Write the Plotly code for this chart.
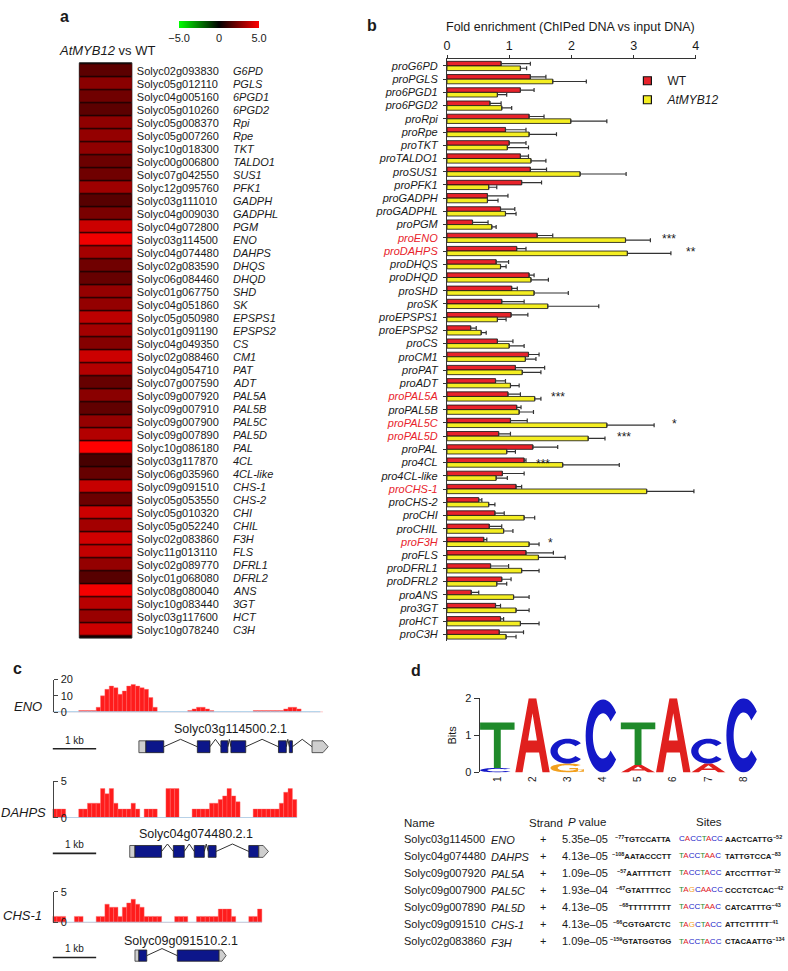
import numpy as np
import plotly.graph_objects as go

W, H = 788, 971
FONT = "Liberation Sans, Arial, Helvetica, sans-serif"
INK = "#1a1a1a"


def fx(p):
    return p / W


def fy(p):
    return 1 - p / H


# ---------------- Panel a : heatmap data ----------------
gene_ids = ["Solyc02g093830", "Solyc05g012110", "Solyc04g005160", "Solyc05g010260", "Solyc05g008370",
            "Solyc05g007260", "Solyc10g018300", "Solyc00g006800", "Solyc07g042550", "Solyc12g095760",
            "Solyc03g111010", "Solyc04g009030", "Solyc04g072800", "Solyc03g114500", "Solyc04g074480",
            "Solyc02g083590", "Solyc06g084460", "Solyc01g067750", "Solyc04g051860", "Solyc05g050980",
            "Solyc01g091190", "Solyc04g049350", "Solyc02g088460", "Solyc04g054710", "Solyc07g007590",
            "Solyc09g007920", "Solyc09g007910", "Solyc09g007900", "Solyc09g007890", "Solyc10g086180",
            "Solyc03g117870", "Solyc06g035960", "Solyc09g091510", "Solyc05g053550", "Solyc05g010320",
            "Solyc05g052240", "Solyc02g083860", "Solyc11g013110", "Solyc02g089770", "Solyc01g068080",
            "Solyc08g080040", "Solyc10g083440", "Solyc03g117600", "Solyc10g078240"]
gene_symbols = ["G6PD", "PGLS", "6PGD1", "6PGD2", "Rpi", "Rpe", "TKT", "TALDO1", "SUS1", "PFK1",
                "GADPH", "GADPHL", "PGM", "ENO", "DAHPS", "DHQS", "DHQD", "SHD", "SK", "EPSPS1",
                "EPSPS2", "CS", "CM1", "PAT", "ADT", "PAL5A", "PAL5B", "PAL5C", "PAL5D", "PAL",
                "4CL", "4CL-like", "CHS-1", "CHS-2", "CHI", "CHIL", "F3H", "FLS", "DFRL1", "DFRL2",
                "ANS", "3GT", "HCT", "C3H"]
log2_ratio = [1.8, 2.7, 2.2, 1.8, 2.8, 2.9, 2.8, 2.1, 2.2, 3.1,
              1.7, 2.4, 4.0, 4.7, 3.2, 2.2, 2.0, 2.9, 2.9, 3.7,
              3.2, 2.6, 4.0, 3.5, 2.0, 2.7, 1.9, 2.9, 3.5, 5.0,
              1.4, 2.0, 3.9, 2.1, 4.0, 3.2, 4.1, 3.8, 2.9, 1.7,
              4.8, 3.6, 3.0, 4.0]
colorbar_ticks = [-5, 0, 5]
colorbar_ticktext = ["\u22125.0", "0", "5.0"]

# ---------------- Panel b : ChIP fold enrichment ----------------
promoters = ["proG6PD", "proPGLS", "pro6PGD1", "pro6PGD2", "proRpi", "proRpe", "proTKT", "proTALDO1",
             "proSUS1", "proPFK1", "proGADPH", "proGADPHL", "proPGM", "proENO", "proDAHPS", "proDHQS",
             "proDHQD", "proSHD", "proSK", "proEPSPS1", "proEPSPS2", "proCS", "proCM1", "proPAT", "proADT",
             "proPAL5A", "proPAL5B", "proPAL5C", "proPAL5D", "proPAL", "pro4CL", "pro4CL-like", "proCHS-1",
             "proCHS-2", "proCHI", "proCHIL", "proF3H", "proFLS", "proDFRL1", "proDFRL2", "proANS",
             "pro3GT", "proHCT", "proC3H"]
wt_mean = [0.87, 1.34, 1.18, 0.69, 1.32, 0.94, 1.00, 1.18, 1.34, 1.20,
           0.65, 0.86, 0.41, 1.45, 1.12, 0.79, 1.32, 1.04, 0.88, 1.03,
           0.38, 0.81, 1.31, 1.10, 0.78, 0.98, 1.12, 1.02, 0.83, 1.38,
           1.24, 0.89, 1.11, 0.51, 0.77, 0.68, 0.59, 1.27, 0.70, 0.88,
           0.39, 0.78, 0.86, 0.84]
wt_err = [0.47, 0.25, 0.22, 0.18, 0.24, 0.33, 0.27, 0.13, 0.26, 0.32,
          0.33, 0.23, 0.25, 0.25, 0.15, 0.20, 0.08, 0.09, 0.36, 0.27,
          0.09, 0.25, 0.17, 0.47, 0.16, 0.20, 0.07, 0.27, 0.19, 0.40,
          0.03, 0.35, 0.09, 0.05, 0.15, 0.20, 0.05, 0.44, 0.29, 0.15,
          0.12, 0.08, 0.05, 0.39]
myb_mean = [1.18, 1.70, 0.81, 0.88, 1.99, 1.32, 0.97, 1.35, 2.14, 0.67,
            0.65, 0.94, 0.72, 2.87, 2.90, 0.86, 1.35, 1.40, 1.62, 0.81,
            0.55, 1.00, 1.26, 1.21, 1.02, 1.41, 1.16, 2.57, 2.27, 0.96,
            1.86, 0.79, 3.21, 0.67, 1.24, 0.91, 1.32, 1.47, 1.20, 0.80,
            1.07, 1.11, 1.18, 0.95]
myb_err = [0.10, 0.54, 0.15, 0.16, 0.58, 0.44, 0.34, 0.24, 0.74, 0.13,
           0.17, 0.17, 0.07, 0.40, 0.70, 0.09, 0.28, 0.55, 0.82, 0.14,
           0.08, 0.24, 0.17, 0.30, 0.14, 0.10, 0.23, 0.76, 0.27, 0.14,
           0.91, 0.18, 0.76, 0.10, 0.17, 0.15, 0.16, 0.43, 0.28, 0.16,
           0.25, 0.21, 0.30, 0.16]
highlighted = ["proENO", "proDAHPS", "proPAL5A", "proPAL5C", "proPAL5D", "proCHS-1", "proF3H"]
sig_promoters = ["proENO", "proDAHPS", "proPAL5A", "proPAL5C", "proPAL5D", "pro4CL", "proCHS-1", "proF3H"]
sig_marks = ["***", "**", "***", "*", "***", "***", "***", "*"]
sig_xpos = [3.57, 3.92, 1.79, 3.65, 2.85, 1.55, 4.18, 1.66]
enrich_ticks = [0, 1, 2, 3, 4]

# ---------------- Panel c : ChIP-seq coverage (0.1 kb bins) ----------------
bin_kb = 0.1
eno_cov = [0, 0, 0, 0, 0, 0, 1, 1, 1, 1,
           3, 10, 14, 16, 15, 11, 13, 16, 17, 16,
           15, 14, 9, 3, 0, 0, 0, 0, 0, 0,
           0, 1, 2, 3, 3, 2, 1, 0, 0, 0,
           0, 0, 0, 0, 0, 0, 1, 1, 1, 1,
           1, 1, 1, 2, 3, 3, 2, 0, 0, 0,
           0, 0]
dahps_cov = [1.2, 1.2, 1.2, 0, 0, 0, 1.2, 1.2, 2, 2,
             2, 4, 3.3, 4, 2, 1.2, 1.2, 1.2, 2, 1.2,
             0, 1.2, 1.2, 1.2, 0, 0, 4, 4, 4, 0,
             0, 0, 1.2, 1.2, 1.2, 1.2, 2, 2, 2.5, 3,
             4, 3, 2.2, 0, 0, 0, 1.2, 1.2, 1.2, 1.2,
             1.2, 1.2, 2, 3.5, 4, 2.5]
chs_cov = [1, 1, 1, 0, 0, 1, 1, 0, 0, 0,
           1, 1, 3, 2.5, 2.5, 1, 2.5, 3.2, 3.8, 3,
           2.5, 1, 1, 1, 1, 0, 0, 0, 1, 1,
           1, 0, 0, 1, 1, 1, 1, 1, 2.2, 2.2,
           2.2, 1, 0, 0, 0, 1, 1, 2.2]
track_lengths_kb = [6.14, 5.6, 4.8]
track_names = ["ENO", "DAHPS", "CHS-1"]
track_ymax = [20, 5, 5]
track_ticks = [[0, 10, 20], [0, 5], [0, 5]]
gene_models = ["Solyc03g114500.2.1", "Solyc04g074480.2.1", "Solyc09g091510.2.1"]
gene_utr5 = [[1.98, 2.14], [1.77, 1.89], [1.89, 1.98]]
gene_exons = [[[2.14, 2.55], [3.32, 3.61], [3.86, 4.02], [4.09, 4.43], [5.18, 5.36], [5.43, 5.50]],
              [[1.89, 2.50], [2.77, 3.02], [3.25, 3.48], [3.57, 3.75], [4.50, 4.73]],
              [[1.98, 2.16], [2.86, 3.82]]]
gene_utr3 = [[5.95, 6.32], [4.73, 4.95], [3.82, 3.98]]
gene_label_kb = [4.09, 3.30, 2.95]
scale_bar_kb = [0, 1]

# ---------------- Panel d : motif logo + table ----------------
logo_positions = [1, 2, 3, 4, 5, 6, 7, 8]
logo_letters = [["C", "T"], ["A"], ["G", "C"], ["C"], ["A", "T"], ["A"], ["A", "C"], ["C"]]
logo_bits = [[0.12, 1.23], [2.0], [0.24, 0.67], [1.97], [0.20, 1.15], [2.0], [0.24, 0.67], [2.0]]
base_colors = {"A": "#e0201e", "C": "#1418c8", "G": "#f2a01e", "T": "#1f8a2a"}

tbl_ids = ["Solyc03g114500", "Solyc04g074480", "Solyc09g007920", "Solyc09g007900",
           "Solyc09g007890", "Solyc09g091510", "Solyc02g083860"]
tbl_genes = ["ENO", "DAHPS", "PAL5A", "PAL5C", "PAL5D", "CHS-1", "F3H"]
tbl_strand = ["+", "+", "+", "+", "+", "+", "+"]
tbl_pvalues = ["5.35e\u201305", "4.13e\u201305", "1.09e\u201305", "1.93e\u201304",
               "4.13e\u201305", "4.13e\u201305", "1.09e\u201305"]
tbl_up_pos = ["\u221277", "\u2212108", "\u221257", "\u221267", "\u221268", "\u221266", "\u2212159"]
tbl_up_seq = ["TGTCCATTA", "AATACCCTT", "AATTTTCTT", "GTATTTTCC", "TTTTTTTTT", "CGTGATCTC", "GTATGGTGG"]
tbl_sites = ["CACCTACC", "TACCTAAC", "TACCTACC", "TAGCAACC", "TACCTAAC", "TAGCTACC", "TACCTACC"]
tbl_down_seq = ["AACTCATTG", "TATTGTCCA", "ATCCTTTGT", "CCCTCTCAC", "CATCATTTG", "ATTCTTTTT", "CTACAATTG"]
tbl_down_pos = ["\u221252", "\u221283", "\u221232", "\u221242", "\u221243", "\u221241", "\u2212134"]

# =====================================================================
fig = go.Figure()
shapes = []
annotations = []


def ann(text, x, y, size=11, xanchor="center", yanchor="middle", color=INK, **kw):
    d = dict(text=text, x=x, y=y, xref=kw.pop("xref", "paper"), yref=kw.pop("yref", "paper"),
             xanchor=xanchor, yanchor=yanchor, showarrow=False,
             font=dict(family=FONT, size=size, color=color))
    d.update(kw)
    annotations.append(d)


# ---------------- Panel a ----------------
fig.add_trace(go.Heatmap(
    z=[[v] for v in log2_ratio], x=[0], y=gene_ids, xaxis="x", yaxis="y",
    colorscale=[[0, "#00ff00"], [0.5, "#000000"], [1, "#ff0000"]], zmin=-5, zmax=5,
    ygap=1.3, hoverinfo="skip",
    colorbar=dict(orientation="h", x=fx(218), xanchor="center", y=fy(15), yanchor="top",
                  len=80, lenmode="pixels", thickness=7, thicknessmode="pixels",
                  outlinewidth=0, tickvals=colorbar_ticks, ticktext=colorbar_ticktext,
                  ticks="", tickfont=dict(family=FONT, size=11, color=INK), xpad=0, ypad=0)))
shapes.append(dict(type="rect", xref="x domain", yref="y domain", x0=0, x1=1, y0=0, y1=1,
                   fillcolor="#140000", line=dict(color="#222", width=1), layer="below"))
for gid, sym in zip(gene_ids, gene_symbols):
    ann(f"<i>{sym}</i>", fx(230), gid, size=11, xanchor="left", yref="y")
ann("<i>AtMYB12</i> vs WT", fx(105), fy(45), size=13)
ann("<b>a</b>", fx(62), fy(11), size=16)

# ---------------- Panel b ----------------
fig.add_trace(go.Bar(
    y=promoters, x=wt_mean, orientation="h", name="WT", xaxis="x2", yaxis="y2", showlegend=False,
    marker=dict(color="#e8232b", line=dict(color="#111", width=0.8)),
    error_x=dict(type="data", array=wt_err, arrayminus=[0] * len(wt_err), symmetric=False,
                 color="#333", thickness=1.2, width=2)))
fig.add_trace(go.Bar(
    y=promoters, x=myb_mean, orientation="h", name="<i>AtMYB12</i>", xaxis="x2", yaxis="y2",
    showlegend=False,
    marker=dict(color="#f4ee22", line=dict(color="#111", width=0.8)),
    error_x=dict(type="data", array=myb_err, arrayminus=[0] * len(myb_err), symmetric=False,
                 color="#333", thickness=1.2, width=2)))
# legend entries (small squares)
fig.add_trace(go.Scatter(x=[None], y=[None], mode="markers", name="WT", xaxis="x2", yaxis="y2",
                         marker=dict(symbol="square", size=8, color="#e8232b", line=dict(color="#111", width=1.2))))
fig.add_trace(go.Scatter(x=[None], y=[None], mode="markers", name="<i>AtMYB12</i>", xaxis="x2", yaxis="y2",
                         marker=dict(symbol="square", size=8, color="#f4ee22", line=dict(color="#111", width=1.2))))

ticktext_b = []
for p in promoters:
    if p in highlighted:
        ticktext_b.append(f"<i><span style='color:#e8232b'>{p}</span></i>")
    else:
        ticktext_b.append(f"<i>{p}</i>")
for p, m, xv in zip(sig_promoters, sig_marks, sig_xpos):
    ann(m, xv, p, size=12, xref="x2", yref="y2", yshift=-1)
ann("Fold enrichment (ChIPed DNA vs input DNA)", fx(573), fy(21), size=12.5)
ann("<b>b</b>", fx(372), fy(20), size=16)

# ---------------- Panel c ----------------
track_cov = [eno_cov, dahps_cov, chs_cov]
track_ydom = [(682, 715), (785, 822), (897, 928)]
gene_ydom = [(740, 760), (846, 866), (952, 971)]
gene_label_y = [732, 838, 947]
track_label_y = [709, 817, 921]
track_label_x = [41, 45, 41]
for k in range(3):
    tx, ty = f"x{3 + 2 * k}", f"y{3 + 2 * k}"
    gx, gy = f"x{4 + 2 * k}", f"y{4 + 2 * k}"
    cov = track_cov[k]
    centers = np.arange(len(cov)) * bin_kb + bin_kb / 2
    fig.add_trace(go.Scatter(x=[0, track_lengths_kb[k]], y=[0, 0], mode="lines", xaxis=tx, yaxis=ty,
                             line=dict(color="#9fd3f0", width=1.6), showlegend=False, hoverinfo="skip",
                             cliponaxis=False))
    fig.add_trace(go.Bar(x=centers, y=cov, width=bin_kb, xaxis=tx, yaxis=ty, showlegend=False,
                         marker=dict(color="#ff1c1c", line=dict(color="#ff6a6a", width=0.4)),
                         hoverinfo="skip"))
    ann(f"<i>{track_names[k]}</i>", fx(track_label_x[k]), fy(track_label_y[k]), size=13, xanchor="right")
    # gene model
    boxes = [gene_utr5[k]] + gene_exons[k] + [gene_utr3[k]]
    for a, b in zip(boxes[:-1], boxes[1:]):
        if b[0] - a[1] > 0.02:
            mid = (a[1] + b[0]) / 2
            shapes.append(dict(type="path", xref=gx, yref=gy,
                               path=f"M{a[1]},0 L{mid},0.75 L{b[0]},0",
                               line=dict(color="#333", width=1)))
    u0, u1 = gene_utr5[k]
    shapes.append(dict(type="rect", xref=gx, yref=gy, x0=u0, x1=u1, y0=-0.6, y1=0.6,
                       fillcolor="#cfcfcf", line=dict(color="#333", width=0.8)))
    for e0, e1 in gene_exons[k]:
        shapes.append(dict(type="rect", xref=gx, yref=gy, x0=e0, x1=e1, y0=-0.6, y1=0.6,
                           fillcolor="#0c168a", line=dict(color="#222", width=0.8)))
    a0, a1 = gene_utr3[k]
    tip = min(0.12, (a1 - a0) * 0.6)
    shapes.append(dict(type="path", xref=gx, yref=gy,
                       path=f"M{a0},-0.6 L{a1 - tip},-0.6 L{a1},0 L{a1 - tip},0.6 L{a0},0.6 Z",
                       fillcolor="#cfcfcf", line=dict(color="#333", width=0.8)))
    # scale bar
    shapes.append(dict(type="line", xref=gx, yref=gy, x0=scale_bar_kb[0], x1=scale_bar_kb[1],
                       y0=-0.2, y1=-0.2, line=dict(color="#222", width=1.6)))
    ann("1 kb", (scale_bar_kb[0] + scale_bar_kb[1]) / 2, -0.2, size=10, xref=gx, yref=gy,
        yanchor="bottom", yshift=1)
    ann(gene_models[k], gene_label_kb[k], fy(gene_label_y[k]), size=12.5, xref=gx)
ann("<b>c</b>", fx(8), fy(671), size=16, xanchor="left")

# ---------------- Panel d ----------------
ang = np.radians(np.linspace(40, 320, 41))
ang_g = np.radians(np.linspace(40, 335, 41))


def glyph(letter, x0, x1, y0, y1):
    def P(u, v):
        return f"{x0 + u * (x1 - x0):.4f},{y0 + v * (y1 - y0):.4f}"

    def poly(pts):
        return "M" + " L".join(P(u, v) for u, v in pts) + " Z"

    if letter == "T":
        return poly([(0, 1), (1, 1), (1, 0.84), (0.6, 0.84), (0.6, 0), (0.4, 0), (0.4, 0.84), (0, 0.84)])
    if letter == "A":
        outer = [(0, 0), (0.39, 1), (0.61, 1), (1, 0), (0.79, 0), (0.69, 0.27), (0.31, 0.27), (0.21, 0)]
        hole = [(0.37, 0.43), (0.63, 0.43), (0.5, 0.8)]
        return poly(outer) + " " + poly(hole)
    a = ang if letter == "C" else ang_g
    outer = [(0.5 + 0.5 * np.cos(t), 0.5 + 0.5 * np.sin(t)) for t in a]
    inner = [(0.5 + 0.29 * np.cos(t), 0.5 + 0.31 * np.sin(t)) for t in a[::-1]]
    path = poly(outer + inner)
    if letter == "G":
        path += " " + poly([(0.55, 0.36), (0.97, 0.36), (0.97, 0.5), (0.55, 0.5)])
        path += " " + poly([(0.8, 0.08), (0.97, 0.08), (0.97, 0.5), (0.8, 0.5)])
    return path


for pos, letters, bits in zip(logo_positions, logo_letters, logo_bits):
    base = 0.0
    for L, b in zip(letters, bits):
        shapes.append(dict(type="path", xref="x9", yref="y9",
                           path=glyph(L, pos - 0.49, pos + 0.49, base, base + b),
                           fillcolor=base_colors[L], line=dict(width=0)))
        base += b
fig.add_trace(go.Scatter(x=[None], y=[None], xaxis="x9", yaxis="y9", showlegend=False))
ann("<b>d</b>", fx(410), fy(673), size=16, xanchor="left")

# table
ann("Name", fx(403), fy(827), size=11.5, xanchor="left")
ann("Strand", fx(529), fy(827), size=11.5, xanchor="left")
ann("<i>P</i> value", fx(568), fy(826), size=11.5, xanchor="left")
ann("Sites", fx(712), fy(826), size=11.5)
row_y = [843, 860.3, 877.6, 895, 912.2, 929.5, 947]
for i in range(len(tbl_ids)):
    yy = fy(row_y[i])
    ann(tbl_ids[i], fx(403), yy, size=11, xanchor="left")
    ann(f"<i>{tbl_genes[i]}</i>", fx(490), fy(row_y[i] + 1.5), size=11, xanchor="left")
    ann(tbl_strand[i], fx(545), yy, size=11)
    ann(tbl_pvalues[i], fx(562), yy, size=11, xanchor="left")
    ann(f"<b><sup>{tbl_up_pos[i]}</sup>{tbl_up_seq[i]}</b>", fx(676), yy, size=7.8, xanchor="right")
    site = "".join(f"<span style='color:{base_colors[c]}'>{c}</span>" for c in tbl_sites[i])
    ann(site, fx(680), yy, size=8, xanchor="left")
    ann(f"<b>{tbl_down_seq[i]}<sup>{tbl_down_pos[i]}</sup></b>", fx(726), yy, size=7.8, xanchor="left")

# =====================================================================
def dom_x(a, b):
    return [fx(a), fx(b)]


def dom_y(top, bottom):
    return [fy(bottom), fy(top)]


hidden = dict(visible=False, showgrid=False, zeroline=False)
layout = dict(
    width=W, height=H, margin=dict(l=0, r=0, t=0, b=0),
    paper_bgcolor="white", plot_bgcolor="white",
    font=dict(family=FONT, size=11, color=INK),
    barmode="group", bargap=0.3, bargroupgap=0.0,
    showlegend=True,
    legend=dict(x=fx(630), y=fy(61), xanchor="left", yanchor="top", bgcolor="rgba(0,0,0,0)",
                font=dict(family=FONT, size=12, color=INK), tracegroupgap=0, itemsizing="trace"),
    shapes=shapes, annotations=annotations,
    # panel a
    xaxis=dict(domain=dom_x(77, 130), range=[-0.5, 0.5], **hidden),
    yaxis=dict(domain=dom_y(57.5, 640), anchor="x", side="right", autorange="reversed",
               showgrid=False, zeroline=False, ticks="", showline=False,
               tickfont=dict(family=FONT, size=11, color=INK), ticklabelstandoff=4),
    # panel b
    xaxis2=dict(domain=dom_x(448, 699), range=[0, 4], anchor="y2", side="top",
                tickvals=enrich_ticks, showgrid=False, zeroline=False, showline=True,
                linecolor="#333", linewidth=1.2, ticks="outside", ticklen=3, tickcolor="#333",
                tickfont=dict(family=FONT, size=12.5, color=INK)),
    yaxis2=dict(domain=dom_y(54, 643), anchor="x2", autorange="reversed", showgrid=False,
                zeroline=False, showline=True, linecolor="#333", linewidth=1.2, ticks="outside",
                ticklen=3, tickcolor="#333", tickvals=promoters, ticktext=ticktext_b,
                tickfont=dict(family=FONT, size=11, color=INK), ticklabelstandoff=3),
    # logo
    xaxis9=dict(domain=dom_x(481, 765), range=[0.5, 8.5], anchor="y9", tickvals=logo_positions,
                ticks="", showline=False, showgrid=False, zeroline=False, tickangle=-90,
                tickfont=dict(family=FONT, size=10, color=INK), ticklabelstandoff=1),
    yaxis9=dict(domain=dom_y(701, 776), range=[0, 2], anchor="x9", tickvals=[0, 1, 2],
                showline=True, linecolor="#333", linewidth=1.2, ticks="outside", ticklen=5,
                tickcolor="#333", showgrid=False, zeroline=False,
                tickfont=dict(family=FONT, size=11, color=INK),
                title=dict(text="Bits", font=dict(family=FONT, size=11, color=INK), standoff=6)),
)
for k in range(3):
    tx, ty = 3 + 2 * k, 3 + 2 * k
    gx, gy = 4 + 2 * k, 4 + 2 * k
    layout[f"xaxis{tx}"] = dict(domain=dom_x(50, 50 + 6.4 * 44), range=[0, 6.4], anchor=f"y{ty}", **hidden)
    layout[f"yaxis{ty}"] = dict(domain=dom_y(*track_ydom[k]), range=[0, track_ymax[k]], anchor="free",
                                position=fx(50), side="right",
                                tickvals=track_ticks[k], showgrid=False, zeroline=False, showline=True,
                                linecolor="#444", linewidth=1, ticks="outside", ticklen=4, tickcolor="#444",
                                ticklabelstandoff=1, tickfont=dict(family=FONT, size=11, color=INK))
    layout[f"xaxis{gx}"] = dict(domain=dom_x(50, 50 + 6.4 * 44), range=[0, 6.4], anchor=f"y{gy}", **hidden)
    layout[f"yaxis{gy}"] = dict(domain=dom_y(*gene_ydom[k]), range=[-1, 1], anchor=f"x{gx}", **hidden)
    fig.add_trace(go.Scatter(x=[None], y=[None], xaxis=f"x{gx}", yaxis=f"y{gy}", showlegend=False))

fig.update_layout(**layout)
fig.write_html("out.html", config={"displayModeBar": False},
               post_script="document.body.style.margin='0px';")
